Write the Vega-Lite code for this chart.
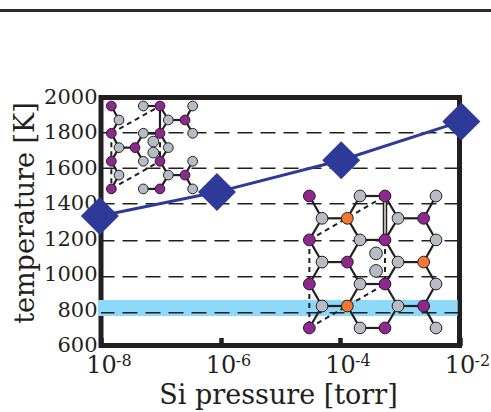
{"$schema":"https://vega.github.io/schema/vega-lite/v6.json","width":358.5,"height":248,"autosize":"none","padding":{"left":101,"top":97.5,"right":31.5,"bottom":66.5},"background":"white","view":{"stroke":"#231f20","strokeWidth":5,"fill":"white"},
"config":{"axis":{"labelOverlap":false,"labelBound":false,"labelFlush":false}},
"datasets":{
"series":[{"logP":-8.02,"T":1331},{"logP":-6.06,"T":1466},{"logP":-3.98,"T":1646},{"logP":-1.97,"T":1865}],
"exponents":[{"logP":-8,"T":512,"label":"-8"},{"logP":-6,"T":512,"label":"-6"},{"logP":-4,"T":512,"label":"-4"},{"logP":-2,"T":512,"label":"-2"}],
"grid":[{"T":1801},{"T":1600},{"T":1400},{"T":1192},{"T":988},{"T":785}],
"solid":[
{"x":-4.513,"y":1444,"x2":-4.301,"y2":1318},{"x":-4.301,"y":1318,"x2":-3.877,"y2":1318},{"x":-4.301,"y":1318,"x2":-4.513,"y2":1196},{"x":-3.877,"y":1318,"x2":-3.665,"y2":1444},{"x":-3.877,"y":1318,"x2":-3.665,"y2":1196},{"x":-3.665,"y":1444,"x2":-3.247,"y2":1444},{"x":-3.247,"y":1444,"x2":-3.029,"y2":1318},{"x":-3.029,"y":1318,"x2":-2.6,"y2":1318},{"x":-3.029,"y":1318,"x2":-3.247,"y2":1196},{"x":-2.6,"y":1318,"x2":-2.393,"y2":1444},{"x":-2.6,"y":1318,"x2":-2.393,"y2":1196},{"x":-3.665,"y":1196,"x2":-3.247,"y2":1196},{"x":-4.513,"y":1196,"x2":-4.301,"y2":1071},{"x":-4.301,"y":1071,"x2":-3.877,"y2":1071},{"x":-3.877,"y":1071,"x2":-3.665,"y2":1196},{"x":-3.877,"y":1071,"x2":-3.665,"y2":947},{"x":-4.301,"y":1071,"x2":-4.513,"y2":947},{"x":-4.513,"y":947,"x2":-4.301,"y2":823},{"x":-4.301,"y":823,"x2":-3.877,"y2":823},{"x":-4.301,"y":823,"x2":-4.513,"y2":699},{"x":-3.877,"y":823,"x2":-3.665,"y2":947},{"x":-3.877,"y":823,"x2":-3.665,"y2":699},{"x":-3.665,"y":699,"x2":-3.247,"y2":699},{"x":-3.665,"y":947,"x2":-3.247,"y2":947},{"x":-3.247,"y":947,"x2":-3.029,"y2":1071},{"x":-3.247,"y":947,"x2":-3.029,"y2":823},{"x":-3.029,"y":1071,"x2":-2.6,"y2":1071},{"x":-2.6,"y":1071,"x2":-2.393,"y2":1196},{"x":-2.6,"y":1071,"x2":-2.393,"y2":947},{"x":-3.029,"y":823,"x2":-2.6,"y2":823},{"x":-3.029,"y":823,"x2":-3.247,"y2":699},{"x":-2.6,"y":823,"x2":-2.393,"y2":947},{"x":-2.6,"y":823,"x2":-2.393,"y2":699},{"x":-3.247,"y":1196,"x2":-3.029,"y2":1071},
{"x":-7.827,"y":1952,"x2":-7.699,"y2":1873},{"x":-7.699,"y":1873,"x2":-7.827,"y2":1798},{"x":-7.292,"y":1952,"x2":-7.013,"y2":1952},{"x":-6.873,"y":1873,"x2":-6.594,"y2":1873},{"x":-7.292,"y":1798,"x2":-7.013,"y2":1798},{"x":-7.827,"y":1798,"x2":-7.699,"y2":1717},{"x":-7.827,"y":1640,"x2":-7.699,"y2":1717},{"x":-7.699,"y":1717,"x2":-7.431,"y2":1717},{"x":-7.431,"y":1717,"x2":-7.292,"y2":1798},{"x":-7.431,"y":1717,"x2":-7.292,"y2":1640},{"x":-7.827,"y":1640,"x2":-7.699,"y2":1562},{"x":-7.827,"y":1484,"x2":-7.699,"y2":1562},{"x":-7.013,"y":1952,"x2":-6.873,"y2":1873},{"x":-6.873,"y":1873,"x2":-7.013,"y2":1798},{"x":-7.013,"y":1798,"x2":-6.873,"y2":1717},{"x":-6.873,"y":1717,"x2":-7.013,"y2":1640},{"x":-7.013,"y":1640,"x2":-6.873,"y2":1562},{"x":-6.873,"y":1562,"x2":-7.013,"y2":1484},{"x":-7.292,"y":1484,"x2":-7.013,"y2":1484},{"x":-6.873,"y":1562,"x2":-6.594,"y2":1562},{"x":-6.594,"y":1562,"x2":-6.466,"y2":1640},{"x":-6.594,"y":1562,"x2":-6.466,"y2":1484},{"x":-6.594,"y":1873,"x2":-6.466,"y2":1952},{"x":-6.594,"y":1873,"x2":-6.466,"y2":1798},{"x":-7.013,"y":1952,"x2":-7.013,"y2":1798},
{"x":-7.292,"y":1798,"x2":-7.013,"y2":1798}
],
"dashed":[
{"x":-4.513,"y":1196,"x2":-3.247,"y2":1444},{"x":-4.513,"y":699,"x2":-3.247,"y2":947},{"x":-4.513,"y":1196,"x2":-4.513,"y2":699},{"x":-3.247,"y":1196,"x2":-3.247,"y2":947},
{"x":-7.827,"y":1798,"x2":-7.013,"y2":1952},{"x":-7.827,"y":1484,"x2":-7.013,"y2":1640},{"x":-7.827,"y":1798,"x2":-7.827,"y2":1484},{"x":-7.013,"y":1798,"x2":-7.013,"y2":1640}
],
"atoms":[
{"x":-4.513,"y":1444,"kind":"Si","group":"large"},{"x":-3.247,"y":1444,"kind":"Si","group":"large"},{"x":-2.6,"y":1318,"kind":"Si","group":"large"},{"x":-4.513,"y":1196,"kind":"Si","group":"large"},{"x":-3.247,"y":1196,"kind":"Si","group":"large"},{"x":-3.877,"y":1071,"kind":"Si","group":"large"},{"x":-4.513,"y":947,"kind":"Si","group":"large"},{"x":-3.247,"y":947,"kind":"Si","group":"large"},{"x":-2.6,"y":823,"kind":"Si","group":"large"},{"x":-4.513,"y":699,"kind":"Si","group":"large"},{"x":-3.247,"y":699,"kind":"Si","group":"large"},
{"x":-3.877,"y":1318,"kind":"dopant","group":"large"},{"x":-2.6,"y":1071,"kind":"dopant","group":"large"},{"x":-3.877,"y":823,"kind":"dopant","group":"large"},
{"x":-3.665,"y":1444,"kind":"C","group":"large"},{"x":-2.393,"y":1444,"kind":"C","group":"large"},{"x":-4.301,"y":1318,"kind":"C","group":"large"},{"x":-3.029,"y":1318,"kind":"C","group":"large"},{"x":-3.665,"y":1196,"kind":"C","group":"large"},{"x":-2.393,"y":1196,"kind":"C","group":"large"},{"x":-4.301,"y":1071,"kind":"C","group":"large"},{"x":-3.029,"y":1071,"kind":"C","group":"large"},{"x":-3.665,"y":947,"kind":"C","group":"large"},{"x":-2.393,"y":947,"kind":"C","group":"large"},{"x":-4.301,"y":823,"kind":"C","group":"large"},{"x":-3.029,"y":823,"kind":"C","group":"large"},{"x":-3.665,"y":699,"kind":"C","group":"large"},{"x":-2.393,"y":699,"kind":"C","group":"large"},
{"x":-3.397,"y":1120,"kind":"C","group":"large-dimer"},{"x":-3.397,"y":1021,"kind":"C","group":"large-dimer"},
{"x":-7.827,"y":1952,"kind":"Si","group":"small"},{"x":-7.013,"y":1952,"kind":"Si","group":"small"},{"x":-6.594,"y":1873,"kind":"Si","group":"small"},{"x":-7.827,"y":1798,"kind":"Si","group":"small"},{"x":-7.013,"y":1798,"kind":"Si","group":"small"},{"x":-7.431,"y":1717,"kind":"Si","group":"small"},{"x":-7.827,"y":1640,"kind":"Si","group":"small"},{"x":-7.013,"y":1640,"kind":"Si","group":"small"},{"x":-6.594,"y":1562,"kind":"Si","group":"small"},{"x":-7.827,"y":1484,"kind":"Si","group":"small"},{"x":-7.013,"y":1484,"kind":"Si","group":"small"},
{"x":-7.292,"y":1952,"kind":"C","group":"small"},{"x":-6.466,"y":1952,"kind":"C","group":"small"},{"x":-7.699,"y":1873,"kind":"C","group":"small"},{"x":-6.873,"y":1873,"kind":"C","group":"small"},{"x":-7.292,"y":1798,"kind":"C","group":"small"},{"x":-6.466,"y":1798,"kind":"C","group":"small"},{"x":-7.699,"y":1717,"kind":"C","group":"small"},{"x":-6.873,"y":1717,"kind":"C","group":"small"},{"x":-7.292,"y":1640,"kind":"C","group":"small"},{"x":-6.466,"y":1640,"kind":"C","group":"small"},{"x":-7.699,"y":1562,"kind":"C","group":"small"},{"x":-6.873,"y":1562,"kind":"C","group":"small"},{"x":-7.292,"y":1484,"kind":"C","group":"small"},{"x":-6.466,"y":1484,"kind":"C","group":"small"},
{"x":-7.124,"y":1751,"kind":"C","group":"small-dimer"},{"x":-7.124,"y":1689,"kind":"C","group":"small-dimer"}
]},
"layer":[
{"data":{"values":[{"logP":-8.05,"logP2":-2.03,"T":857,"T2":767}]},"mark":{"type":"rect","fill":"#8ed8f8"},"encoding":{
"x":{"field":"logP","type":"quantitative","scale":{"domain":[-8,-2]},"axis":{"values":[-8,-6,-4,-2],"tickCount":8,"grid":false,"domain":false,"ticks":true,"tickSize":-8,"tickWidth":4.5,"tickColor":"#231f20","format":"d","labelExpr":"'10'","labelFont":"DejaVu Serif","labelFontSize":24,"labelColor":"#231f20","labelPadding":16,"labelOverlap":false,"labelFlush":false,"labelBound":false,"title":"Si  pressure [torr]","titleFont":"DejaVu Serif","titleFontSize":27,"titleFontWeight":"normal","titleColor":"#231f20","titleX":177,"titleY":58,"titleBaseline":"alphabetic"}},
"x2":{"field":"logP2"},
"y":{"field":"T","type":"quantitative","scale":{"domain":[600,2000]},"axis":{"values":[600,800,1000,1200,1400,1600,1800,2000],"tickCount":10,"format":"d","grid":false,"domain":false,"ticks":false,"labelFont":"DejaVu Serif","labelFontSize":21,"labelColor":"#231f20","labelPadding":4,"labelOverlap":false,"labelBound":false,"labelFlush":false,"title":"temperature [K]","titleFont":"DejaVu Serif","titleFontSize":27,"titleFontWeight":"normal","titleColor":"#231f20","titleX":-62,"titleY":115}},
"y2":{"field":"T2"}}},
{"data":{"name":"grid"},"mark":{"type":"rule","stroke":"#231f20","strokeWidth":1.5,"strokeDash":[15,8]},"encoding":{"y":{"field":"T","type":"quantitative"}}},
{"data":{"values":[{"a":-9.69,"b":-1.47,"T":2491}]},"mark":{"type":"rule","stroke":"#2b2b2b","strokeWidth":3,"clip":false},"encoding":{"x":{"field":"a","type":"quantitative"},"x2":{"field":"b"},"y":{"field":"T","type":"quantitative"}}},
{"data":{"name":"solid"},"mark":{"type":"rule","stroke":"#231f20","strokeWidth":2.2},"encoding":{"x":{"field":"x","type":"quantitative"},"x2":{"field":"x2"},"y":{"field":"y","type":"quantitative"},"y2":{"field":"y2"}}},
{"data":{"name":"dashed"},"mark":{"type":"rule","stroke":"#231f20","strokeWidth":2,"strokeDash":[5,4]},"encoding":{"x":{"field":"x","type":"quantitative"},"x2":{"field":"x2"},"y":{"field":"y","type":"quantitative"},"y2":{"field":"y2"}}},
{"data":{"values":[{"x":-3.247,"y":1444,"y2":1196}]},"mark":{"type":"rule","stroke":"#231f20","strokeWidth":4.5},"encoding":{"x":{"field":"x","type":"quantitative"},"y":{"field":"y","type":"quantitative"},"y2":{"field":"y2"}}},
{"data":{"values":[{"x":-3.247,"y":1444,"y2":1196}]},"mark":{"type":"rule","stroke":"white","strokeWidth":1.3},"encoding":{"x":{"field":"x","type":"quantitative"},"y":{"field":"y","type":"quantitative"},"y2":{"field":"y2"}}},
{"data":{"name":"atoms"},"mark":{"type":"point","filled":true,"shape":"circle","opacity":1,"stroke":"#231f20","strokeWidth":1},"encoding":{"x":{"field":"x","type":"quantitative"},"y":{"field":"y","type":"quantitative"},"color":{"field":"kind","type":"nominal","legend":null,"scale":{"domain":["Si","C","dopant"],"range":["#8e278f","#b5bcc4","#f37735"]}},"size":{"field":"group","type":"nominal","legend":null,"scale":{"domain":["small","small-dimer","large","large-dimer"],"range":[95,160,250,360]}}}},
{"data":{"name":"series"},"mark":{"type":"line","stroke":"#2e3a9a","strokeWidth":3},"encoding":{"x":{"field":"logP","type":"quantitative"},"y":{"field":"T","type":"quantitative"}}},
{"data":{"name":"series"},"mark":{"type":"point","shape":"diamond","filled":true,"size":1444,"opacity":1,"color":"#2e3a9a"},"encoding":{"x":{"field":"logP","type":"quantitative"},"y":{"field":"T","type":"quantitative"}}},
{"data":{"name":"exponents"},"mark":{"type":"text","font":"DejaVu Serif","fontSize":16,"color":"#231f20","align":"left","baseline":"middle","dx":15,"clip":false},"encoding":{"x":{"field":"logP","type":"quantitative"},"y":{"field":"T","type":"quantitative"},"text":{"field":"label","type":"nominal"}}}
],
"resolve":{"scale":{"color":"independent","size":"independent"}}}
